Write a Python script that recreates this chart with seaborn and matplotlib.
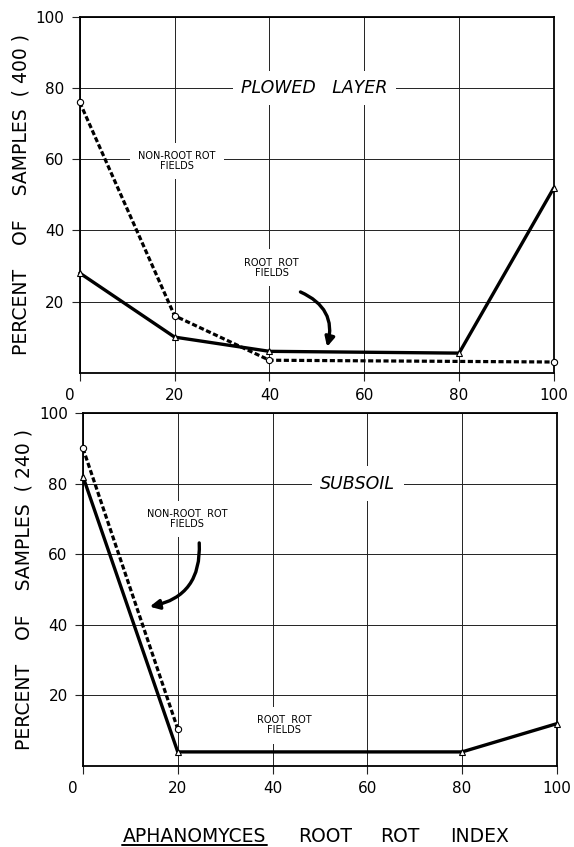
import numpy as np
import pandas as pd
import matplotlib
matplotlib.use("Agg")
import matplotlib.pyplot as plt
import matplotlib.transforms as mtransforms
import seaborn as sns

# ── Data ──
index_ticks = [0, 20, 40, 60, 80, 100]
pct_ticks = [20, 40, 60, 80, 100]

plowed_root_x = [0, 20, 40, 80, 100]
plowed_root_y = [28, 10, 6, 5.5, 52]
plowed_nonroot_x = [0, 20, 40, 100]
plowed_nonroot_y = [76, 16, 3.5, 3]

subsoil_root_x = [0, 20, 80, 100]
subsoil_root_y = [82, 4, 4, 12]
subsoil_nonroot_x = [0, 20]
subsoil_nonroot_y = [90, 10.5]

sns.set_style("white")
plt.rcParams['font.family'] = ['DejaVu Sans']
plt.rcParams['text.color'] = 'black'
plt.rcParams['axes.labelcolor'] = 'black'
plt.rcParams['xtick.color'] = 'black'
plt.rcParams['ytick.color'] = 'black'

fig = plt.figure(figsize=(5.74, 8.47), dpi=100)
ax1 = fig.add_axes([0.139, 0.560, 0.826, 0.420])
ax2 = fig.add_axes([0.1446, 0.0956, 0.8254, 0.4167])

box = dict(facecolor='white', edgecolor='none', pad=6)


def draw_panel(ax, root_x, root_y, non_x, non_y, ylab):
    sns.lineplot(x=non_x, y=non_y, ax=ax, color='black', lw=2.3,
                 linestyle=(0, (1.6, 0.8)), marker='o', markersize=4.5,
                 markerfacecolor='white', markeredgecolor='black',
                 markeredgewidth=0.8, zorder=4, clip_on=False)
    sns.lineplot(x=root_x, y=root_y, ax=ax, color='black', lw=2.4,
                 marker='^', markersize=5, markerfacecolor='white',
                 markeredgecolor='black', markeredgewidth=0.8, zorder=5,
                 clip_on=False)
    ax.set_xlim(0, 100)
    ax.set_ylim(0, 100)
    ax.set_xticks(index_ticks)
    ax.set_xticklabels([str(v) for v in index_ticks], fontsize=11)
    ax.set_yticks(pct_ticks)
    ax.set_yticklabels([str(v) for v in pct_ticks], fontsize=11)
    ax.grid(True, color='#222222', lw=0.7)
    ax.set_axisbelow(True)
    ax.tick_params(direction='out', length=6, width=0.8, color='#222222',
                   pad=5, left=True, bottom=True)
    for s in ax.spines.values():
        s.set_color('black')
        s.set_linewidth(1.3)
    ax.set_ylabel(ylab, fontsize=13.5, labelpad=4)
    # shift the "0" label a bit left like the drawing
    lab0 = ax.get_xticklabels()[0]
    lab0.set_transform(lab0.get_transform() +
                       mtransforms.ScaledTranslation(-7 / 72, 0, fig.dpi_scale_trans))


draw_panel(ax1, plowed_root_x, plowed_root_y, plowed_nonroot_x, plowed_nonroot_y,
           "PERCENT    OF    SAMPLES  ( 400 )")
draw_panel(ax2, subsoil_root_x, subsoil_root_y, subsoil_nonroot_x, subsoil_nonroot_y,
           "PERCENT    OF    SAMPLES  ( 240 )")

# ── Top panel labels ──
ax1.text(49.5, 80, "PLOWED   LAYER", fontsize=12.5, style='italic', ha='center',
         va='center', bbox=box, zorder=3)
ax1.text(20.5, 59.5, "NON-ROOT ROT\nFIELDS", fontsize=7, ha='center', va='center',
         linespacing=1.0, bbox=box, zorder=3)
ax1.text(40.5, 29.5, "ROOT  ROT\nFIELDS", fontsize=7, ha='center', va='center',
         linespacing=1.0, bbox=box, zorder=3)
ax1.annotate("", xy=(52, 6.5), xytext=(46, 23),
             arrowprops=dict(arrowstyle='-|>', lw=2.4, color='black',
                             mutation_scale=14,
                             connectionstyle='arc3,rad=-0.45'), zorder=6)

# ── Bottom panel labels ──
ax2.text(58, 80, "SUBSOIL", fontsize=12.5, style='italic', ha='center',
         va='center', bbox=box, zorder=3)
ax2.text(22, 70, "NON-ROOT  ROT\nFIELDS", fontsize=7, ha='center', va='center',
         linespacing=1.0, bbox=box, zorder=3)
ax2.text(42.5, 11.5, "ROOT  ROT\nFIELDS", fontsize=7, ha='center', va='center',
         linespacing=1.0, bbox=box, zorder=3)
ax2.annotate("", xy=(13.5, 45), xytext=(24.5, 64),
             arrowprops=dict(arrowstyle='-|>', lw=2.4, color='black',
                             mutation_scale=14,
                             connectionstyle='arc3,rad=-0.45'), zorder=6)

# ── Shared x label with underlined genus name ──
words = ["APHANOMYCES", "ROOT", "ROT", "INDEX"]
word_x = [0.339, 0.566, 0.697, 0.836]
for w, xw in zip(words, word_x):
    fig.text(xw, 0.0055, w, fontsize=13.5, ha='center', va='baseline')
fig.add_artist(plt.Line2D([0.213, 0.465], [0.0026, 0.0026], color='black', lw=1.4,
                          transform=fig.transFigure))

plt.savefig("out.png", dpi=100)
